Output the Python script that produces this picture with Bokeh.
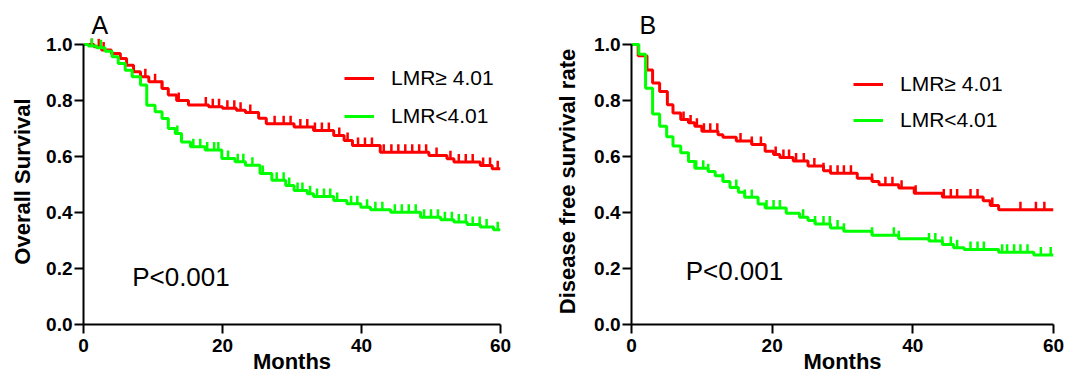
import numpy as np
from bokeh.plotting import figure
from bokeh.layouts import row
from bokeh.models import (Range1d, FixedTicker, Legend, LegendItem, Label,
                          NumeralTickFormatter, Title)
from bokeh.embed import file_html
from bokeh.resources import INLINE

# ---------------- data ----------------
months_ticks = [0, 20, 40, 60]
surv_ticks = [0.0, 0.2, 0.4, 0.6, 0.8, 1.0]
labels = ["LMR\u2265 4.01", "LMR<4.01"]

# Panel A: Overall survival
a_hi_t = [0, 1.5, 2.6, 4.0, 5.3, 6.2, 7.2, 8.2, 9.4, 11.3, 12.2, 13.4, 15.1, 18, 20, 22,
          23.3, 25.2, 26.3, 30.3, 33.1, 36.0, 37.5, 38.7, 42.7, 49.7, 52.3, 53.3, 57.1, 58.8]
a_hi_s = [1.0, 0.992, 0.98, 0.968, 0.95, 0.926, 0.903, 0.885, 0.867, 0.843, 0.82, 0.80,
          0.784, 0.778, 0.772, 0.765, 0.757, 0.737, 0.717, 0.705, 0.693, 0.675, 0.657,
          0.639, 0.615, 0.604, 0.592, 0.58, 0.568, 0.556]
a_hi_cens = [1.2, 2.2, 2.9, 8.9, 10.3, 11.3, 13.7, 17.6, 18.6, 19.5, 20.7, 21.7, 22.6, 24.0,
             27.5, 28.8, 29.8, 31.2, 32.2, 33.3, 34.3, 35.3, 36.8, 38.0, 39.5, 40.5, 41.5,
             43.2, 44.3, 45.3, 46.3, 47.3, 48.3, 49.3, 50.8, 52.8, 54.0, 55.0, 56.0, 57.5,
             58.5, 59.6]

a_lo_t = [0, 0.7, 1.9, 3.1, 4.1, 5.0, 6.0, 7.0, 8.2, 9.1, 10.3, 11.3, 12.2, 13.2, 14.1, 15.4,
          17.5, 19.9, 21.8, 23.3, 25.4, 27.1, 29.1, 30.3, 32.2, 33.1, 36.0, 37.9, 39.9, 41.3,
          44.2, 48.5, 51.4, 53.3, 55.2, 57.1, 59.0]
a_lo_s = [1.0, 0.995, 0.988, 0.976, 0.956, 0.932, 0.908, 0.885, 0.855, 0.783, 0.76, 0.736,
          0.70, 0.682, 0.652, 0.635, 0.623, 0.593, 0.581, 0.569, 0.539, 0.515, 0.496, 0.479,
          0.467, 0.457, 0.443, 0.431, 0.419, 0.41, 0.401, 0.383, 0.374, 0.366, 0.357, 0.348,
          0.338]
a_lo_cens = [1.2, 2.5, 13.5, 15.8, 16.8, 17.8, 18.8, 19.4, 20.8, 22.2, 23.0, 24.3, 25.8, 27.8,
             28.8, 29.6, 30.8, 31.5, 32.6, 33.6, 34.6, 35.5, 36.5, 38.5, 39.4, 40.8, 42.0,
             43.0, 44.8, 45.8, 46.8, 47.8, 49.0, 50.0, 51.0, 52.0, 53.0, 54.0, 55.0, 56.0,
             57.0, 58.0, 59.6]

# Panel B: Disease free survival
b_hi_t = [0, 0.95, 2.2, 3.0, 4.0, 5.1, 5.9, 7.0, 8.1, 9.0, 10.0, 12.3, 13.0, 14.9, 17.1, 19.0,
          20.2, 21.1, 23.0, 25.1, 27.3, 28.3, 32.1, 34.2, 35.2, 38.0, 40.2, 44.2, 50.0, 51.0,
          52.2]
b_hi_s = [1.0, 0.96, 0.909, 0.862, 0.832, 0.785, 0.755, 0.732, 0.72, 0.708, 0.69, 0.678,
          0.669, 0.655, 0.643, 0.619, 0.607, 0.596, 0.584, 0.566, 0.549, 0.54, 0.522, 0.511,
          0.499, 0.487, 0.469, 0.455, 0.442, 0.425, 0.41]
b_hi_cens = [7.4, 8.4, 9.3, 10.3, 11.2, 12.2, 15.5, 17.1, 18.4, 20.5, 21.6, 22.4, 23.4, 24.5,
             26.0, 27.3, 28.3, 29.3, 30.2, 31.2, 34.2, 36.1, 37.1, 38.4, 40.4, 44.4, 45.4,
             46.3, 48.2, 49.2, 51.3, 55.3, 57.5, 58.7]

b_lo_t = [0, 1.04, 2.0, 3.0, 4.0, 5.0, 5.9, 7.0, 8.1, 9.0, 10.9, 11.9, 13.0, 14.0, 15.2, 16.1,
          18.0, 19.0, 22.0, 23.9, 25.1, 26.1, 28.3, 30.2, 34.2, 38.0, 42.3, 44.2, 45.8, 47.3,
          52.2, 57.2]
b_lo_s = [1.0, 0.965, 0.844, 0.752, 0.708, 0.67, 0.637, 0.613, 0.582, 0.558, 0.546, 0.531,
          0.511, 0.489, 0.472, 0.454, 0.43, 0.416, 0.397, 0.383, 0.371, 0.359, 0.345, 0.333,
          0.319, 0.306, 0.298, 0.286, 0.274, 0.268, 0.258, 0.248]
b_lo_cens = [9.2, 10.2, 10.9, 13.0, 14.9, 16.1, 17.1, 19.2, 20.2, 21.1, 24.4, 26.1, 27.3, 28.2,
             29.3, 30.2, 34.2, 37.3, 38.0, 42.3, 43.2, 44.2, 45.4, 46.3, 48.2, 49.2, 50.1,
             52.7, 53.4, 54.4, 55.3, 56.3, 58.2, 59.6]

RED = "#ff0000"
GREEN = "#00ff00"
FONT = "Liberation Sans"


def step_value(t, s, x):
    t = np.asarray(t, dtype=float)
    s = np.asarray(s, dtype=float)
    idx = np.searchsorted(t, np.asarray(x, dtype=float), side="right") - 1
    return s[idx]


def panel(series, ylabel, letter, p_x, p_y, width, height, left, right, top, bottom,
          px_per_unit, ylab_standoff, leg_loc, leg_spacing):
    frame_h = height - top - bottom
    y_end = frame_h / px_per_unit
    p = figure(width=width, height=height,
               x_range=Range1d(0, 60), y_range=Range1d(0, y_end),
               output_backend="svg", toolbar_location=None,
               min_border_left=left, min_border_right=right,
               min_border_top=top, min_border_bottom=bottom,
               title=Title(text=letter, align="left", offset=8, standoff=0,
                           text_font=FONT, text_font_size="25px",
                           text_font_style="normal", text_color="black"))
    p.outline_line_color = None
    p.grid.visible = False
    p.background_fill_color = "white"
    p.border_fill_color = "white"

    off = 4.0 / px_per_unit
    items = []
    for (t, s, cens, color), lab in zip(series, labels):
        tt = list(t) + [60]
        ss = list(s) + [s[-1]]
        lr = p.step(tt, ss, mode="after", line_color=color, line_width=3)
        cy = step_value(t, s, cens) + off
        cr = p.scatter(cens, cy, marker="dash", angle=np.pi / 2, size=8,
                       line_color=color, line_width=2.5)
        items.append(LegendItem(label=lab, renderers=[lr, cr]))

    leg = Legend(items=items, location=leg_loc, margin=0, padding=0,
                 glyph_width=30, glyph_height=24, label_height=24,
                 label_standoff=17, spacing=leg_spacing,
                 label_text_font=FONT, label_text_font_size="21px",
                 label_text_color="black",
                 border_line_color=None, background_fill_alpha=0)
    p.add_layout(leg, "center")

    for ax in (p.xaxis[0], p.yaxis[0]):
        ax.axis_line_width = 2
        ax.axis_line_color = "black"
        ax.major_tick_line_width = 2
        ax.major_tick_line_color = "black"
        ax.major_tick_in = 0
        ax.major_tick_out = 9
        ax.minor_tick_line_color = None
        ax.major_label_text_font = FONT
        ax.major_label_text_font_size = "19px"
        ax.major_label_text_font_style = "bold"
        ax.major_label_text_color = "black"
        ax.axis_label_text_font = FONT
        ax.axis_label_text_font_size = "22px"
        ax.axis_label_text_font_style = "bold"
        ax.axis_label_text_color = "black"

    p.xaxis.ticker = FixedTicker(ticks=months_ticks)
    p.xaxis.axis_label = "Months"
    p.xaxis.major_label_standoff = 5
    p.xaxis.axis_label_standoff = -6

    p.yaxis.ticker = FixedTicker(ticks=surv_ticks)
    p.yaxis.formatter = NumeralTickFormatter(format="0.0")
    p.yaxis.bounds = (0, 1)
    p.yaxis.axis_label = ylabel
    p.yaxis.major_label_standoff = 2
    p.yaxis.axis_label_standoff = ylab_standoff

    p.add_layout(Label(x=p_x, y=p_y, text="P<0.001", text_font=FONT,
                       text_font_size="26px", text_color="black",
                       text_baseline="middle", text_align="left"))
    return p


pA = panel([(a_hi_t, a_hi_s, a_hi_cens, RED), (a_lo_t, a_lo_s, a_lo_cens, GREEN)],
           "Overall Survival", "A", 7.0, 0.171,
           width=552, height=377, left=83, right=52, top=38, bottom=53,
           px_per_unit=280.0, ylab_standoff=8,
           leg_loc=(261, 196), leg_spacing=14)

pB = panel([(b_hi_t, b_hi_s, b_hi_cens, RED), (b_lo_t, b_lo_s, b_lo_cens, GREEN)],
           "Disease free survival rate", "B", 7.7, 0.191,
           width=527, height=377, left=79, right=26, top=36, bottom=53,
           px_per_unit=282.0, ylab_standoff=11,
           leg_loc=(222, 192), leg_spacing=12)

layout = row(pA, pB, spacing=0)
open("out.html", "w").write(file_html(layout, INLINE))
